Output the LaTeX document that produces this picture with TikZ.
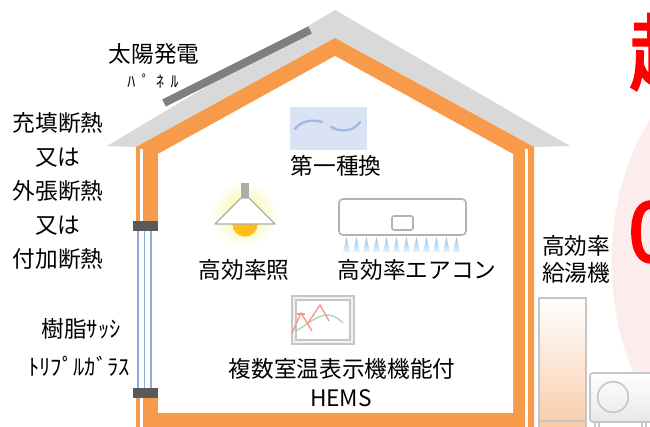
\documentclass[tikz,border=0pt]{standalone}
\usepackage{fontspec}
\setmainfont{Noto Sans CJK JP}
\newfontfamily\boldjp[FakeBold=3]{Noto Sans CJK JP}
\usetikzlibrary{shapes,positioning}

\definecolor{wallorange}{HTML}{F79A4A}
\definecolor{roofgray}{HTML}{D9D9D9}
\definecolor{framegray}{HTML}{595959}
\definecolor{panelgray}{HTML}{7F7F7F}
\definecolor{glassblue}{HTML}{8FAADC}
\definecolor{ventblue}{HTML}{DAE3F3}
\definecolor{swoosh}{HTML}{A4B8E4}
\definecolor{acblue}{HTML}{8CC4EC}
\definecolor{bulb}{HTML}{FFBE1A}
\definecolor{glow}{HTML}{F6F58A}
\definecolor{tankorange}{HTML}{F8C7A2}
\definecolor{softpink}{HTML}{FDECEC}
\definecolor{chartred}{HTML}{FF8F8F}
\definecolor{chartgreen}{HTML}{9FDCAE}

\begin{document}
\begin{tikzpicture}[x=0.75pt, y=-0.75pt,
    jptext/.style={font=\fontsize{17}{20}\selectfont, inner sep=0pt, align=center},
    kana/.style={font=\fontsize{12}{14}\selectfont\addfontfeatures{LetterSpace=40}, inner sep=0pt},
    bigred/.style={font=\boldjp\fontsize{62}{62}\selectfont, text=red, inner sep=0pt, anchor=west},
    icon/.style={draw=gray!45, line width=1.2pt}]

    \useasboundingbox (0,0) rectangle (650,427);
    \clip (0,0) rectangle (650,427);
    \fill[white] (0,0) rectangle (650,427);

    % Catch phrase on the right
    \fill[softpink] (745,262) ellipse [x radius=100pt, y radius=152pt];
    \node[bigred] (zero) at (628,232) {0};
    \node[bigred] (super) at (629,52) {超};

    % Roof
    \fill[roofgray] (107,146) -- (335,10) -- (570,146) -- (534,147)
        -- (335,38) -- (136,147) -- cycle;

    % Insulated shell: roof band and walls
    \fill[wallorange] (136,440) -- (136,147) -- (335,38) -- (534,147) -- (534,440) -- cycle;
    \fill[white] (158,413) -- (158,154) -- (335,56) -- (513,154) -- (513,413) -- cycle;
    \draw[white, line width=1.8pt] (141.5,149) -- (141.5,440);
    \draw[white, line width=1.8pt] (526.5,149) -- (526.5,440);

    % Window with triple glazing
    \fill[white] (133,228) rectangle (158,392);
    \foreach \gx in {138,144.5,151}
        \draw[glassblue, line width=1.1pt] (\gx,228) -- (\gx,392);
    \fill[framegray] (133,221) rectangle (158,231);
    \fill[framegray] (133,388) rectangle (158,398);

    % Solar panel
    \draw[panelgray, line width=6pt] (164,103) -- (310,30);

    % Ventilation
    \fill[ventblue] (290,107) rectangle (367,150);
    \draw[swoosh, line width=1.8pt, line cap=round] (295,129) .. controls (301,121) and (312,119) .. (322,122);
    \draw[swoosh, line width=1.8pt, line cap=round] (331,127) .. controls (342,133) and (354,131) .. (360,122);

    % Lighting
    \shade[inner color=glow, outer color=white] (244,214) circle [radius=25pt];
    \fill[bulb] (245,224) circle [radius=9.5pt];
    \fill[gray!65] (241,183) rectangle (249,199);
    \draw[gray!65, fill=white, line width=0.9pt, line join=round]
        (241,198) -- (249,198) -- (275,224) -- (215,224) -- cycle;

    % Air conditioner
    \draw[icon, draw=gray!60, fill=white, rounded corners=3pt] (339,199) rectangle (466,235);
    \draw[icon, draw=gray!60, rounded corners=1.5pt] (392,216) rectangle (413,230);
    \foreach \i in {0,...,11}
        \shade[top color=acblue, bottom color=acblue!20]
            ({346.5+10*\i-3.5},252) -- ({346.5+10*\i},237) -- ({346.5+10*\i+3.5},252) -- cycle;

    % HEMS monitor
    \draw[icon, fill=gray!10] (292,296) rectangle (354,344);
    \draw[icon, fill=white] (296,300) rectangle (350,340);
    \draw[chartgreen, line width=1pt] (296,331) .. controls (312,322) and (326,305) .. (343,323);
    \draw[chartred, line width=1pt] (292,333) -- (301,313) -- (312,331);
    \draw[chartred, line width=1pt] (297,314) -- (305,314);
    \draw[chartred, line width=1pt] (308,323) -- (320,305) -- (329,321);

    % Water heater and heat pump
    \shade[top color=white, bottom color=tankorange] (539,298) rectangle (586,440);
    \draw[icon] (539,298) rectangle (586,440);
    \draw[icon] (539,421) -- (586,421);
    \shade[top color=white, bottom color=gray!18, rounded corners=2pt] (590,373) rectangle (666,422);
    \draw[icon, rounded corners=2pt] (590,373) rectangle (666,422);
    \draw[icon] (613,397) circle [radius=11.5pt];
    \draw[icon] (595,422) -- (595,430);
    \draw[icon] (599,422) -- (599,430);
    \draw[icon] (642,422) -- (642,430);
    \draw[icon] (646,422) -- (646,430);

    % Labels
    \node[jptext] (solar) at (154,54) {太陽発電};
    \node[kana] (panel) at (153,81) {ﾊﾟﾈﾙ};
    \node[jptext, font=\fontsize{17}{25.5}\selectfont] (insul) at (58,190.5)
        {充填断熱\\又は\\外張断熱\\又は\\付加断熱};
    \node[jptext] (sash) at (81,329) {樹脂ｻｯｼ};
    \node[jptext] (glass) at (79,366) {ﾄﾘﾌﾟﾙｶﾞﾗｽ};
    \node[jptext] (vent) at (336,166) {第一種換};
    \node[jptext] (light) at (244,270) {高効率照};
    \node[jptext] (aircon) at (417,270) {高効率エアコン};
    \node[jptext] (hems) at (342,369) {複数室温表示機機能付};
    \node[jptext] (hemsname) at (341,398) {HEMS};
    \node[jptext, align=left, anchor=west, font=\fontsize{17}{20.25}\selectfont] (heater) at (542,259.5)
        {高効率\\給湯機};

\end{tikzpicture}
\end{document}
